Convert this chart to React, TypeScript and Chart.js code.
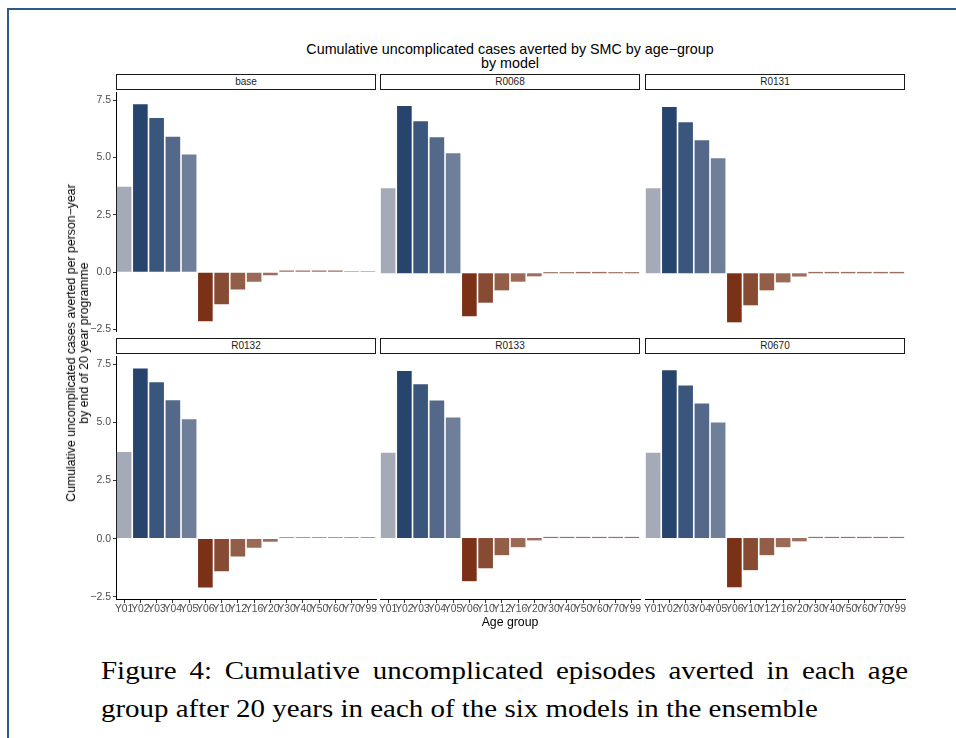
import React, { useEffect, useRef } from "react";
import { Chart, registerables } from "chart.js";

Chart.register(...registerables);

// ---------- data ----------
const categories = ["Y01", "Y02", "Y03", "Y04", "Y05", "Y06", "Y10", "Y12", "Y16", "Y20", "Y30", "Y40", "Y50", "Y60", "Y70", "Y99"];
const models = ["base", "R0068", "R0131", "R0132", "R0133", "R0670"];

const baseValues = [3.73, 7.33, 6.73, 5.91, 5.14, -2.14, -1.4, -0.76, -0.42, -0.14, 0.07, 0.07, 0.07, 0.07, 0.04, 0.04];
const r0068Values = [3.64, 7.16, 6.51, 5.83, 5.14, -1.84, -1.26, -0.73, -0.36, -0.13, 0.05, 0.05, 0.06, 0.06, 0.05, 0.05];
const r0131Values = [3.64, 7.12, 6.47, 5.7, 4.93, -2.1, -1.37, -0.73, -0.39, -0.14, 0.06, 0.06, 0.06, 0.06, 0.06, 0.06];
const r0132Values = [3.73, 7.33, 6.73, 5.96, 5.14, -2.1, -1.41, -0.77, -0.39, -0.14, 0.06, 0.06, 0.06, 0.06, 0.06, 0.06];
const r0133Values = [3.64, 7.12, 6.56, 5.87, 5.14, -1.84, -1.29, -0.73, -0.39, -0.1, 0.05, 0.05, 0.05, 0.05, 0.05, 0.05];
const r0670Values = [3.64, 7.16, 6.51, 5.74, 4.93, -2.1, -1.37, -0.73, -0.39, -0.14, 0.05, 0.05, 0.05, 0.05, 0.05, 0.05];

const modelValues = [baseValues, r0068Values, r0131Values, r0132Values, r0133Values, r0670Values];

const barColors = ["#a4abb7", "#27446c", "#3b567d", "#54698a", "#6f7f99", "#7a3116", "#874a33", "#935e48", "#9a6a56", "#9b6e5d", "#9b705f", "#9b705f", "#9b705f", "#9b705f", "#9b705f", "#9b705f"];

const yTickValues = [-2.5, 0, 2.5, 5, 7.5];
const yMin = -2.6;
const yMax = 7.85;

const titleLines = ["Cumulative uncomplicated cases averted by SMC by age\u2212group", "by model"];
const yTitleLines = ["Cumulative uncomplicated cases averted per person\u2212year", "by end of 20 year programme"];
const xTitle = "Age group";
const captionLines = [
  "Figure 4: Cumulative uncomplicated episodes averted in each age",
  "group after 20 years in each of the six models in the ensemble",
];

// ---------- layout ----------
const colLeft = [116, 380, 645];
const areaW = 260;
const rowTop = [90, 354];
const rowH = [244, 245];
const yAxisW = 40;
const xAxisH = 16;
const stripH = 16;

const FONT = "'Liberation Sans', Arial, Helvetica, sans-serif";
const SERIF = "'Liberation Serif', 'Times New Roman', serif";

function fmt(v: number) {
  const s = Number(v).toFixed(1);
  return s.replace("-", "\u2212");
}

type PanelProps = { values: number[]; col: number; row: number };

function Panel({ values, col, row }: PanelProps) {
  const ref = useRef<HTMLCanvasElement | null>(null);
  const showY = col === 0;
  const showX = row === 1;
  const padL = showY ? 0 : 8;
  const padR = 6;
  const padT = 6;
  const padB = showX ? 2 : 6;
  const left = colLeft[col] - (showY ? yAxisW : 0) - padL;
  const width = (showY ? yAxisW : 0) + padL + areaW + padR;
  const top = rowTop[row] - padT;
  const height = padT + rowH[row] + (showX ? xAxisH : 0) + padB;

  useEffect(() => {
    if (!ref.current) return;
    const chart = new Chart(ref.current, {
      type: "bar",
      data: {
        labels: categories,
        datasets: [
          {
            data: values,
            backgroundColor: barColors,
            borderWidth: 0,
            barPercentage: 0.9,
            categoryPercentage: 1,
          },
        ],
      },
      options: {
        animation: false,
        responsive: false,
        maintainAspectRatio: false,
        layout: { padding: { left: padL, right: padR, top: padT, bottom: padB }, autoPadding: false },
        plugins: { legend: { display: false }, tooltip: { enabled: false } },
        scales: {
          x: {
            display: showX,
            offset: true,
            grid: { display: true, drawOnChartArea: false, drawTicks: true, tickLength: 4, offset: false, color: "#333333", lineWidth: 1 },
            border: { display: true, color: "#000000", width: 1 },
            ticks: {
              autoSkip: false,
              maxRotation: 0,
              minRotation: 0,
              padding: 0,
              color: "#4d4d4d",
              font: { family: FONT, size: 10.3 },
            },
            afterFit: (s: any) => {
              if (showX) s.height = xAxisH;
            },
          },
          y: {
            display: showY,
            min: yMin,
            max: yMax,
            afterBuildTicks: (s: any) => {
              s.ticks = yTickValues.map((v) => ({ value: v }));
            },
            grid: { display: true, drawOnChartArea: false, drawTicks: true, tickLength: 3, color: "#333333", lineWidth: 1 },
            border: { display: true, color: "#000000", width: 1 },
            ticks: {
              padding: 2,
              color: "#4d4d4d",
              font: { family: FONT, size: 10.5 },
              callback: (v: any) => fmt(Number(v)),
            },
            afterFit: (s: any) => {
              if (showY) s.width = yAxisW;
            },
          },
        },
      },
    } as any);
    return () => chart.destroy();
  }, [values, showX, showY]);

  return (
    <canvas
      ref={ref}
      width={width}
      height={height}
      style={{ position: "absolute", left, top, width, height }}
    />
  );
}

const captionScale = 1.135;

export default function App() {
  return (
    <div style={{ position: "absolute", left: 0, top: 0, width: 956, height: 738, background: "#ffffff", overflow: "hidden" }}>
      {/* page border */}
      <div style={{ position: "absolute", left: 7, top: 8, width: 960, height: 740, borderLeft: "2px solid #2e5a8a", borderTop: "2px solid #2e5a8a" }} />

      {/* title */}
      {titleLines.map((t, i) => (
        <div
          key={t}
          style={{ position: "absolute", left: 510, top: 49 + i * 14, transform: "translate(-50%, -50%)", whiteSpace: "nowrap", fontFamily: FONT, fontSize: 14.3, lineHeight: "16px", color: "#000" }}
        >
          {t}
        </div>
      ))}

      {/* strips */}
      {models.map((m, i) => {
        const col = i % 3;
        const row = Math.floor(i / 3);
        return (
          <div
            key={m}
            style={{
              position: "absolute",
              left: colLeft[col],
              top: rowTop[row] - stripH,
              width: areaW,
              height: stripH,
              boxSizing: "border-box",
              border: "1px solid #1a1a1a",
              background: "#ffffff",
              fontFamily: FONT,
              fontSize: 10,
              color: "#1a1a1a",
              textAlign: "center",
              lineHeight: stripH - 2 + "px",
            }}
          >
            {m}
          </div>
        );
      })}

      {/* panels */}
      {models.map((m, i) => (
        <Panel key={m} values={modelValues[i]} col={i % 3} row={Math.floor(i / 3)} />
      ))}

      {/* y title */}
      <div
        style={{
          position: "absolute",
          left: 78,
          top: 343,
          transform: "translate(-50%, -50%) rotate(-90deg)",
          whiteSpace: "nowrap",
          textAlign: "center",
          fontFamily: FONT,
          fontSize: 12.3,
          lineHeight: "13px",
          color: "#000",
        }}
      >
        {yTitleLines.map((t) => (
          <div key={t}>{t}</div>
        ))}
      </div>

      {/* x title */}
      <div style={{ position: "absolute", left: 510, top: 622, transform: "translate(-50%, -50%)", whiteSpace: "nowrap", fontFamily: FONT, fontSize: 12.3, color: "#000" }}>
        {xTitle}
      </div>

      {/* caption */}
      <div style={{ position: "absolute", left: 101, top: 652, transform: `scaleX(${captionScale})`, transformOrigin: "0 0" }}>
        <div
          style={{
            width: 807 / captionScale,
            fontFamily: SERIF,
            fontSize: 25.5,
            lineHeight: "38px",
            color: "#000",
            textAlign: "justify",
            textAlignLast: "justify",
            whiteSpace: "nowrap",
          }}
        >
          {captionLines[0]}
        </div>
        <div
          style={{
            fontFamily: SERIF,
            fontSize: 25.5,
            lineHeight: "38px",
            color: "#000",
            whiteSpace: "nowrap",
          }}
        >
          {captionLines[1]}
        </div>
      </div>
    </div>
  );
}
